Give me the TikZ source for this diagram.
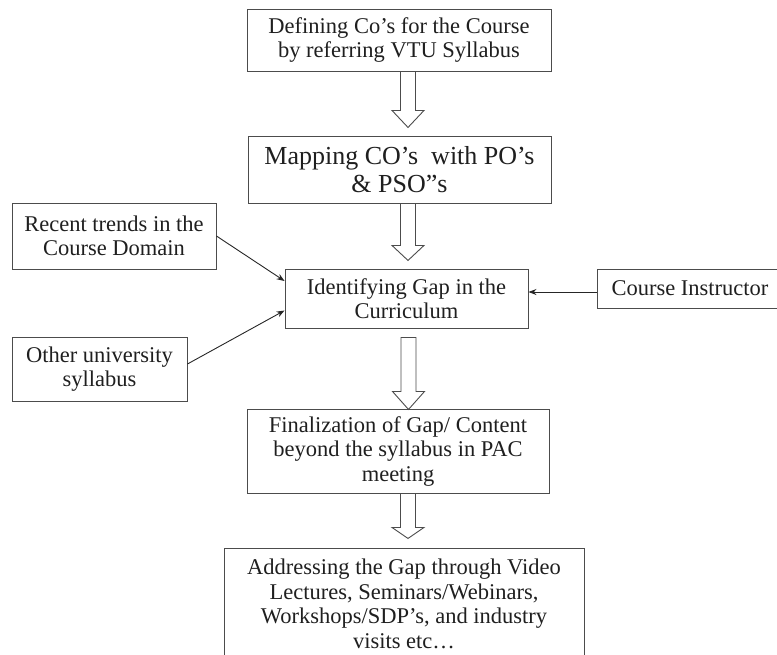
\documentclass[tikz,border=0pt]{standalone}
\usepackage{fontspec}
\setmainfont{Liberation Serif}
\usetikzlibrary{arrows.meta,calc}

% block arrow pointing down: start coordinate (top centre), shaft length, head length
\newcommand\hollowdown[3]{%
  \draw[flow] ([xshift=-7.5pt]#1) -- ++(0,#2) -- ++(-8.5,0) -- ++(16,#3)
    -- ++(16,-#3) -- ++(-8.5,0) -- ++(0,-#2) -- cycle;}

\begin{document}
\begin{tikzpicture}[x=1pt,y=-1pt,
  box/.style={draw=black!70, line width=0.9pt, inner sep=0pt, align=center,
    text=black!88, font=\fontsize{22.5}{24.5}\selectfont},
  bigbox/.style={box, font=\fontsize{26}{28}\selectfont},
  flow/.style={draw=black!70, line width=0.9pt, fill=white, line join=miter},
  feed/.style={draw=black!85, line width=0.9pt, -{Stealth[length=8pt,width=6pt]}}]
\useasboundingbox (0,0) rectangle (777,654);

% main chain
\node[box, minimum width=304, minimum height=62] (b1) at (399,40)
  {Defining Co’s for the Course\\by referring VTU Syllabus};
\node[bigbox, minimum width=303, minimum height=67] (b2) at (399.5,169.5)
  {Mapping CO’s\ \ with PO’s\\\& PSO”s};
\node[box, minimum width=243, minimum height=59] (gap) at (406.5,298.5)
  {Identifying Gap in the\\Curriculum};
\node[box, minimum width=302, minimum height=84] (b4) at (398,451)
  {Finalization of Gap/ Content\\beyond the syllabus in PAC\\meeting};
\node[box, minimum width=360, minimum height=112] (b5) at (404,604)
  {Addressing the Gap through Video\\Lectures, Seminars/Webinars,\\Workshops/SDP’s, and industry\\visits etc…};

% inputs to the gap analysis
\node[box, minimum width=204, minimum height=66] (rt) at (114,236)
  {Recent trends in the\\Course Domain};
\node[box, minimum width=175, minimum height=64] (ou) at (99.5,369)
  {Other university\\syllabus};
\node[box, minimum width=186, minimum height=39] (ci) at (690,288.5)
  {Course Instructor};

% block arrows between the steps
\coordinate (s1) at ([xshift=9pt]b1.south);
\coordinate (s2) at ([xshift=8.5pt]b2.south);
\coordinate (s3) at ([xshift=2pt,yshift=-9pt]gap.south);
\coordinate (s4) at ([xshift=10pt]b4.south);
\hollowdown{s1}{39}{17}
\hollowdown{s2}{42}{15}
\hollowdown{s3}{54}{18}
\hollowdown{s4}{34}{11}

% feeding arrows
\draw[feed] (rt.east) -- ([yshift=17.5pt]gap.west);
\draw[feed] ([yshift=5pt]ou.east) -- ([yshift=-12pt]gap.west);
\draw[feed] ([yshift=-3.5pt]ci.west) -- ([yshift=-3.5pt]ci.west -| gap.east);
\end{tikzpicture}
\end{document}
